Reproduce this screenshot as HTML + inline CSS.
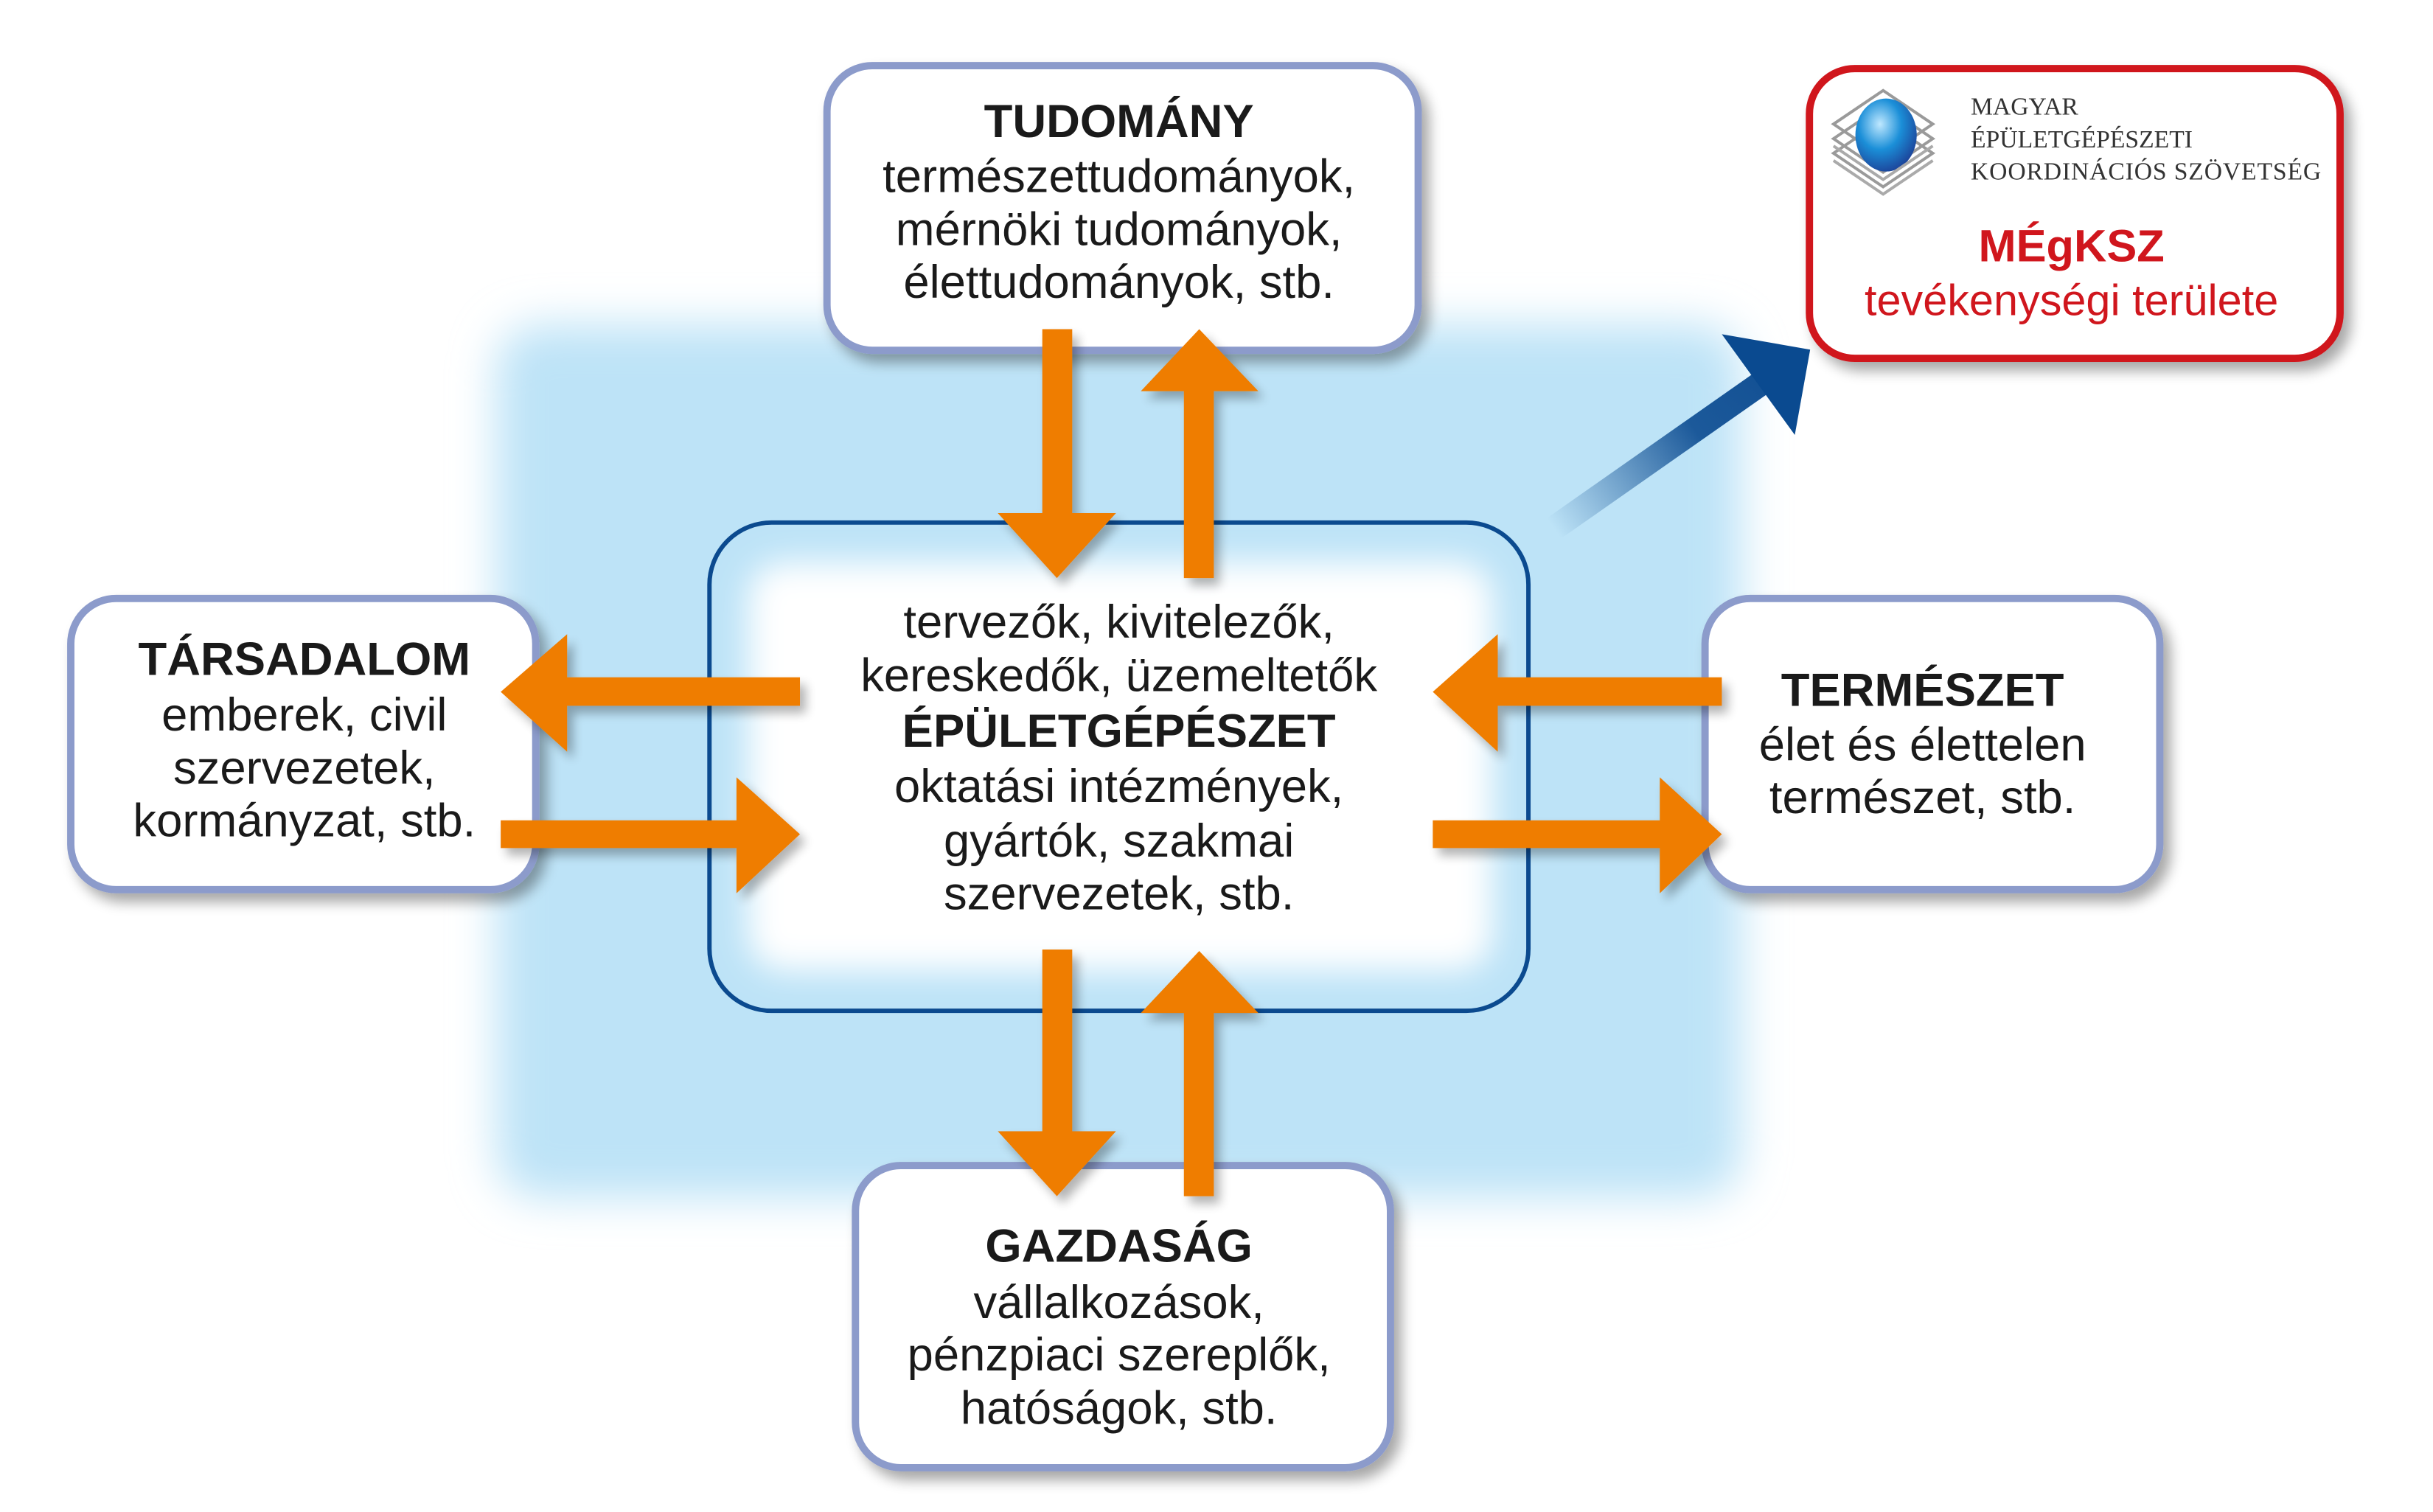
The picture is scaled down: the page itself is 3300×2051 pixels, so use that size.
<!DOCTYPE html>
<html><head><meta charset="utf-8"><style>
html,body{margin:0;padding:0;background:#fff}
svg{display:block}
text{font-family:"Liberation Sans","DejaVu Sans",sans-serif;fill:#1a1a1a}
.t{font-size:64px;text-anchor:middle}
.b{font-weight:bold}
</style></head><body>
<svg width="3300" height="2051" viewBox="0 0 3300 2051" xmlns="http://www.w3.org/2000/svg">
<defs>
<filter id="glow" x="-20%" y="-20%" width="140%" height="140%"><feGaussianBlur stdDeviation="30"/></filter>
<filter id="inner" x="-20%" y="-20%" width="140%" height="140%"><feGaussianBlur stdDeviation="22"/></filter>
<filter id="sh" x="-10%" y="-10%" width="130%" height="130%"><feGaussianBlur in="SourceAlpha" stdDeviation="9"/><feOffset dx="10" dy="12"/><feComponentTransfer><feFuncA type="linear" slope="0.35"/></feComponentTransfer><feMerge><feMergeNode/><feMergeNode in="SourceGraphic"/></feMerge></filter>
<filter id="ash" x="-30%" y="-30%" width="160%" height="160%"><feGaussianBlur in="SourceAlpha" stdDeviation="7"/><feOffset dx="8" dy="10"/><feComponentTransfer><feFuncA type="linear" slope="0.3"/></feComponentTransfer><feMerge><feMergeNode/><feMergeNode in="SourceGraphic"/></feMerge></filter>
<linearGradient id="bg" x1="2129" y1="724" x2="2480" y2="479" gradientUnits="userSpaceOnUse"><stop offset="0" stop-color="#0a4a90" stop-opacity="0"/><stop offset="0.55" stop-color="#0a4a90" stop-opacity="0.9"/><stop offset="1" stop-color="#0a4a90"/></linearGradient>
<radialGradient id="ball" cx="0.4" cy="0.35" r="0.7"><stop offset="0" stop-color="#bfe8ff"/><stop offset="0.5" stop-color="#1b8fd8"/><stop offset="1" stop-color="#1c3f96"/></radialGradient>
</defs>
<g transform="scale(0.99)">
<rect x="680" y="445" width="1706" height="1196" rx="60" fill="#bde3f7" filter="url(#glow)"/>
<rect x="1025" y="770" width="1020" height="560" rx="50" fill="#fff" filter="url(#inner)"/>
<rect x="972" y="716" width="1122" height="669" rx="85" fill="none" stroke="#0b4a8f" stroke-width="6"/>

<g>
<line x1="2129" y1="724" x2="2420" y2="520" stroke="url(#bg)" stroke-width="34"/>
<polygon points="2359,458 2480,479 2459,596" fill="#0a4a90"/>
</g>

<g filter="url(#sh)" fill="#fff" stroke="#8c9bcb" stroke-width="10">
<rect x="1133" y="90" width="810" height="390" rx="62"/>
<rect x="97" y="820" width="637" height="399" rx="62"/>
<rect x="2336" y="820" width="623" height="399" rx="62"/>
<rect x="1172" y="1597" width="733" height="414" rx="62"/>
</g>
<g filter="url(#sh)"><rect x="2479" y="94" width="727" height="397" rx="62" fill="#fff" stroke="#d0161d" stroke-width="10"/></g>

<g fill="#ef7d00" filter="url(#ash)">
<polygon points="1428,451 1469,451 1469,703 1529,703 1448,792 1367,703 1428,703"/>
<polygon points="1622,792 1663,792 1663,536 1724,536 1643,451 1563,536 1622,536"/>
<polygon points="1428,1301 1469,1301 1469,1550 1529,1550 1448,1639 1367,1550 1428,1550"/>
<polygon points="1622,1639 1663,1639 1663,1388 1724,1388 1643,1303 1563,1388 1622,1388"/>
<polygon points="1096,928 1096,967 777,967 777,1030 686,948 777,869 777,928"/>
<polygon points="686,1124 686,1162 1009,1162 1009,1224 1096,1143 1009,1065 1009,1124"/>
<polygon points="2359,928 2359,967 2052,967 2052,1030 1963,948 2052,869 2052,928"/>
<polygon points="1963,1124 1963,1162 2274,1162 2274,1224 2359,1143 2274,1065 2274,1124"/>
</g>

<text class="t b" x="1533" y="188">TUDOMÁNY</text>
<text class="t" x="1533" y="263">természettudományok,</text>
<text class="t" x="1533" y="336">mérnöki tudományok,</text>
<text class="t" x="1533" y="408">élettudományok, stb.</text>

<text class="t" x="1533" y="874">tervezők, kivitelezők,</text>
<text class="t" x="1533" y="947">kereskedők, üzemeltetők</text>
<text class="t b" x="1533" y="1023">ÉPÜLETGÉPÉSZET</text>
<text class="t" x="1533" y="1099">oktatási intézmények,</text>
<text class="t" x="1533" y="1174">gyártók, szakmai</text>
<text class="t" x="1533" y="1246">szervezetek, stb.</text>

<text class="t b" x="417" y="925">TÁRSADALOM</text>
<text class="t" x="417" y="1001">emberek, civil</text>
<text class="t" x="417" y="1074">szervezetek,</text>
<text class="t" x="417" y="1146">kormányzat, stb.</text>

<text class="t b" x="2634" y="967">TERMÉSZET</text>
<text class="t" x="2634" y="1042">élet és élettelen</text>
<text class="t" x="2634" y="1114">természet, stb.</text>

<text class="t b" x="1533" y="1729">GAZDASÁG</text>
<text class="t" x="1533" y="1806">vállalkozások,</text>
<text class="t" x="1533" y="1878">pénzpiaci szereplők,</text>
<text class="t" x="1533" y="1951">hatóságok, stb.</text>

<g stroke="#9a9a9a" stroke-width="4" fill="none">
<polygon points="2580,124 2648,170 2580,216 2512,170"/>
<polygon points="2580,144 2648,190 2580,236 2512,190"/>
<polygon points="2580,164 2648,210 2580,256 2512,210"/>
</g>
<ellipse cx="2584" cy="185" rx="42" ry="50" fill="url(#ball)"/>
<g stroke="#aaa" stroke-width="4" fill="none">
<polyline points="2512,200 2580,246 2648,200"/>
<polyline points="2512,220 2580,266 2648,220"/>
</g>
<text x="2700" y="157" style="font-family:'Liberation Serif',serif;font-size:34px;fill:#333">MAGYAR</text>
<text x="2700" y="202" style="font-family:'Liberation Serif',serif;font-size:34px;fill:#333">ÉPÜLETGÉPÉSZETI</text>
<text x="2700" y="246" style="font-family:'Liberation Serif',serif;font-size:34px;fill:#333" textLength="480">KOORDINÁCIÓS SZÖVETSÉG</text>
<text x="2838" y="358" style="font-size:62px;font-weight:bold;fill:#d0161d;text-anchor:middle">MÉgKSZ</text>
<text x="2838" y="432" style="font-size:60px;fill:#d0161d;text-anchor:middle">tevékenységi területe</text>
</g>
</svg>
</body></html>
